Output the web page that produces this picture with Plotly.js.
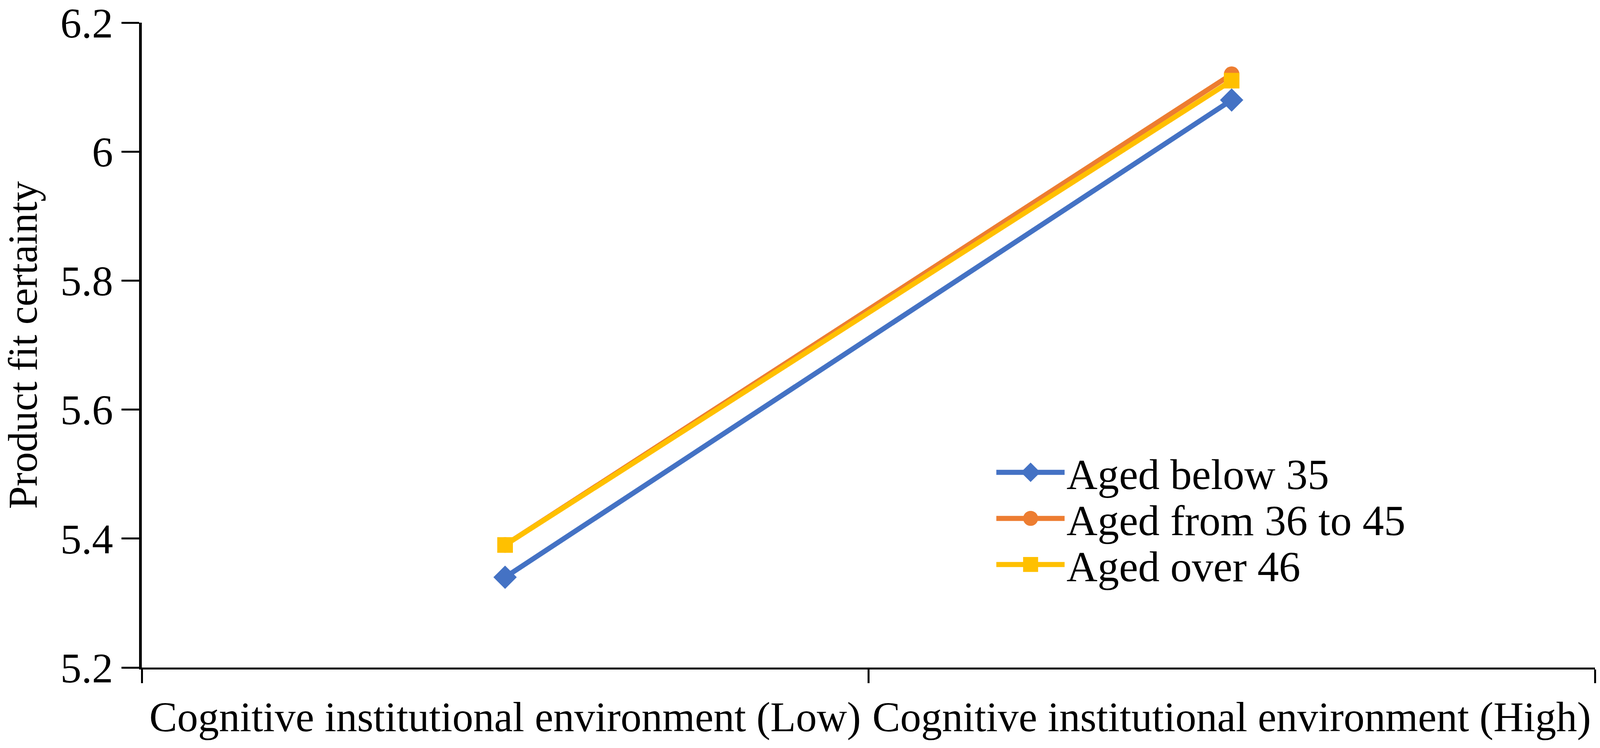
<!DOCTYPE html>
<html>
<head>
<meta charset="utf-8">
<script src="https://cdn.plot.ly/plotly-3.0.1.min.js"></script>
<style>
  html, body { margin: 0; padding: 0; background: #fff; }
  #chart { width: 4099px; height: 1915px; }
</style>
</head>
<body>
<div id="chart"></div>
<script>
// categories on the x axis
const categories = [
    'Cognitive institutional environment (Low)',
    'Cognitive institutional environment (High)'
];

// one series per age group
const seriesNames = ['Aged below 35', 'Aged from 36 to 45', 'Aged over 46'];
const below35 = [5.34, 6.08];
const from36to45 = [5.39, 6.12];
const over46 = [5.39, 6.11];

const yTicks = [5.2, 5.4, 5.6, 5.8, 6.0, 6.2];

const font = 'Liberation Serif, Times New Roman, serif';
const lineWidth = 13;

function makeTrace(name, values, color, symbol, size) {
    return {
        x: categories,
        y: values,
        name: name,
        type: 'scatter',
        mode: 'lines+markers',
        line: { color: color, width: lineWidth },
        marker: { color: color, symbol: symbol, size: size }
    };
}

const data = [
    makeTrace(seriesNames[0], below35, '#4472C4', 'diamond', 46),
    makeTrace(seriesNames[1], from36to45, '#ED7D31', 'circle', 40),
    makeTrace(seriesNames[2], over46, '#FFC000', 'square', 40)
];

const layout = {
    width: 4099,
    height: 1915,
    margin: { l: 363, r: 16, t: 58, b: 206 },
    paper_bgcolor: '#fff',
    plot_bgcolor: '#fff',
    font: { family: font, size: 107, color: '#000' },
    showlegend: true,
    legend: {
        x: 0.588,
        y: 0.35,
        xanchor: 'left',
        yanchor: 'top',
        bgcolor: 'rgba(0,0,0,0)',
        font: { family: font, size: 110, color: '#000' },
        itemwidth: 170,
        tracegroupgap: 0
    },
    xaxis: {
        type: 'category',
        range: [-0.5, 1.5],
        showgrid: false,
        zeroline: false,
        showline: true,
        linecolor: '#000',
        linewidth: 5,
        ticks: 'outside',
        tickson: 'boundaries',
        ticklen: 35,
        tickwidth: 5,
        tickcolor: '#000',
        ticklabelstandoff: 30,
        tickfont: { family: font, size: 107, color: '#000' }
    },
    yaxis: {
        range: [5.2, 6.2],
        tickvals: yTicks,
        ticktext: yTicks.map(v => String(+v.toFixed(1))),
        ticklabeloverflow: 'allow',
        showgrid: false,
        zeroline: false,
        showline: true,
        linecolor: '#000',
        linewidth: 7,
        ticks: 'outside',
        ticklen: 45,
        tickwidth: 5,
        tickcolor: '#000',
        tickfont: { family: font, size: 108, color: '#000' },
        title: {
            text: 'Product fit certainty',
            font: { family: font, size: 105, color: '#000' },
            standoff: 30
        }
    }
};

// stretch the legend keys so they look like the long Excel legend lines
function restyleLegend(gd) {
    const items = gd.querySelectorAll('.legend .traces');
    let firstY = null;
    items.forEach((item, i) => {
        const m = /translate\(([-\d.]+),\s*([-\d.]+)\)/.exec(item.getAttribute('transform') || '');
        if (m) {
            const x = parseFloat(m[1]);
            const y = parseFloat(m[2]);
            if (firstY === null) firstY = y;
            item.setAttribute('transform', 'translate(' + x + ',' + (firstY + i * 118) + ')');
        }
        item.querySelectorAll('.legendlines path').forEach(p => {
            p.setAttribute('d', 'M0,0h175');
            p.style.strokeWidth = lineWidth + 'px';
        });
        item.querySelectorAll('.legendsymbols path').forEach(p => {
            p.setAttribute('transform', 'translate(88,0) scale(2.4)');
        });
    });
}

Plotly.newPlot('chart', data, layout, { staticPlot: true, displayModeBar: false })
    .then(restyleLegend);
</script>
</body>
</html>
